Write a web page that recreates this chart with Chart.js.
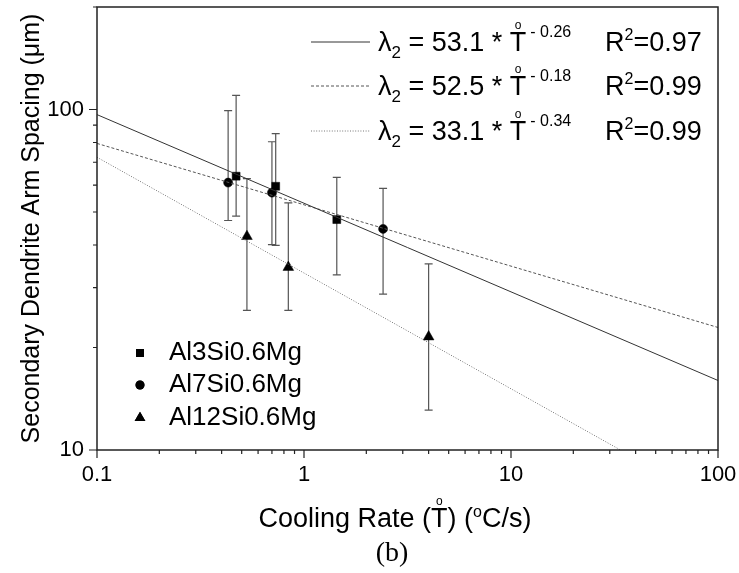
<!DOCTYPE html>
<html>
<head>
<meta charset="utf-8">
<script src="https://cdn.jsdelivr.net/npm/chart.js@4.4.1/dist/chart.umd.min.js"></script>
<style>
  html, body { margin: 0; padding: 0; background: #fff; }
  #wrap { position: relative; width: 739px; height: 573px; }
</style>
</head>
<body>
<div id="wrap"><canvas id="sdas-chart"></canvas></div>
<script>
// cooling rate (degC/s) vs secondary dendrite arm spacing (um)
const al3Rate = [0.47, 0.73, 1.44];
const al3Sdas = [63.7, 59.5, 47.5];
const al3High = [110, 85, 63.2];
const al3Low = [48.6, 39.9, 32.7];

const al7Rate = [0.43, 0.70, 2.41];
const al7Sdas = [61.0, 57.0, 44.6];
const al7High = [99.3, 80.4, 58.7];
const al7Low = [47.2, 40.1, 28.7];

const al12Rate = [0.53, 0.84, 4.0];
const al12Sdas = [42.4, 34.4, 21.5];
const al12High = [62.7, 53.2, 35.2];
const al12Low = [25.7, 25.7, 13.1];

// fitted power laws, end points of each line
const solidRate = [0.1, 100];
const solidSdas = [96.6, 16.0];
const dashedRate = [0.1, 100];
const dashedSdas = [79.5, 22.9];
const dottedRate = [0.1, 33.8];
const dottedSdas = [72.4, 10];

const seriesNames = ["Al3Si0.6Mg", "Al7Si0.6Mg", "Al12Si0.6Mg"];
const fitCoef = ["53.1", "52.5", "33.1"];
const fitExp = ["- 0.26", "- 0.18", "- 0.34"];
const fitR2 = ["0.97", "0.99", "0.99"];

const xTicks = [0.1, 0.2, 0.3, 0.4, 0.5, 0.6, 0.7, 0.8, 0.9, 1, 2, 3, 4, 5, 6, 7, 8, 9,
  10, 20, 30, 40, 50, 60, 70, 80, 90, 100];
const yTicks = [10, 20, 30, 40, 50, 60, 70, 80, 90, 100, 200];
const xLabels = { 0.1: "0.1", 1: "1", 10: "10", 100: "100" };
const yLabels = { 10: "10", 100: "100" };

const SANS = '"Liberation Sans", Arial, sans-serif';
const SERIF = '"Liberation Serif", "Times New Roman", serif';

const pts = (xs, ys) => xs.map((x, i) => ({ x: x, y: ys[i] }));

const fitLine = (xs, ys, dash, color) => ({
  type: "line",
  data: pts(xs, ys),
  borderColor: color,
  borderWidth: 1,
  borderDash: dash,
  pointRadius: 0,
  fill: false,
  showLine: true,
});

const marker = (xs, ys, hi, lo, style, r) => ({
  type: "scatter",
  data: pts(xs, ys),
  errHigh: hi,
  errLow: lo,
  pointStyle: style,
  pointRadius: r,
  pointBackgroundColor: "#000",
  pointBorderColor: "#000",
  pointBorderWidth: 0.5,
});

const dashes = [[], [3, 2], [1, 1.6]];
const dashColors = ["#333", "#555", "#777"];

const extras = {
  id: "extras",
  beforeDatasetsDraw(chart) {
    const { ctx, scales: { x, y } } = chart;
    ctx.save();
    ctx.strokeStyle = "#555";
    ctx.lineWidth = 1.2;
    chart.data.datasets.forEach((ds) => {
      if (!ds.errHigh) return;
      ds.data.forEach((p, i) => {
        const px = x.getPixelForValue(p.x);
        const top = y.getPixelForValue(ds.errHigh[i]);
        const bot = y.getPixelForValue(ds.errLow[i]);
        ctx.beginPath();
        ctx.moveTo(px, top); ctx.lineTo(px, bot);
        ctx.moveTo(px - 4, top); ctx.lineTo(px + 4, top);
        ctx.moveTo(px - 4, bot); ctx.lineTo(px + 4, bot);
        ctx.stroke();
      });
    });
    ctx.restore();
  },
  afterDraw(chart) {
    const { ctx, chartArea: a, scales: { x, y } } = chart;
    ctx.save();
    // frame
    ctx.strokeStyle = "#222";
    ctx.lineWidth = 1.5;
    ctx.strokeRect(a.left, a.top, a.right - a.left, a.bottom - a.top);
    // tick marks, outward
    ctx.lineWidth = 1.2;
    ctx.beginPath();
    x.ticks.forEach((t) => {
      const px = x.getPixelForValue(t.value);
      const len = xLabels[t.value] ? 8 : 4;
      ctx.moveTo(px, a.bottom); ctx.lineTo(px, a.bottom + len);
    });
    y.ticks.forEach((t) => {
      const py = y.getPixelForValue(t.value);
      const len = yLabels[t.value] ? 8 : 4;
      ctx.moveTo(a.left - len, py); ctx.lineTo(a.left, py);
    });
    ctx.stroke();

    ctx.fillStyle = "#000";
    ctx.textBaseline = "alphabetic";
    const txt = (s, px, py, size, align) => {
      ctx.font = size + "px " + SANS;
      ctx.textAlign = align || "left";
      ctx.fillText(s, px, py);
      return px + ctx.measureText(s).width;
    };

    // equation legend
    const rowY = [42, 86, 131];
    rowY.forEach((y0, i) => {
      ctx.strokeStyle = dashColors[i];
      ctx.lineWidth = 1;
      ctx.setLineDash(dashes[i]);
      ctx.beginPath();
      ctx.moveTo(311, y0); ctx.lineTo(370, y0);
      ctx.stroke();
      ctx.setLineDash([]);
      let ex = txt("\u03bb", 378, y0 + 9, 27);
      ex = txt("2", ex, y0 + 16, 17);
      ex = txt(" = " + fitCoef[i] + " * ", ex, y0 + 9, 27);
      const tStart = ex;
      ex = txt("T", ex, y0 + 9, 27);
      txt("o", (tStart + ex) / 2, y0 - 13, 12, "center");
      txt(fitExp[i], ex + 4, y0 - 5, 16);
      const rEnd = txt("R", 605, y0 + 9, 27);
      const sEnd = txt("2", rEnd, y0 - 2, 16);
      txt("=" + fitR2[i], sEnd, y0 + 9, 27);
    });

    // series legend
    const legY = [353, 385, 418];
    const styles = ["rect", "circle", "triangle"];
    const radii = [5.6, 4.5, 6.2];
    legY.forEach((ly, i) => {
      ctx.fillStyle = "#000";
      Chart.helpers.drawPoint(ctx, { pointStyle: styles[i], radius: radii[i], borderWidth: 0 }, 140, ly);
      ctx.fill();
      ctx.textBaseline = "middle";
      txt(seriesNames[i], 169, ly, 26);
      ctx.textBaseline = "alphabetic";
    });

    // axis titles
    ctx.save();
    ctx.translate(32, (a.top + a.bottom) / 2);
    ctx.rotate(-Math.PI / 2);
    ctx.textBaseline = "middle";
    txt("Secondary Dendrite Arm Spacing (\u03bcm)", 0, 0, 25, "center");
    ctx.restore();

    const base = 527;
    const size = 27;
    const p1 = "Cooling Rate (";
    const p2 = "T";
    const p3 = ") (";
    const p4 = "o";
    const p5 = "C/s)";
    ctx.font = size + "px " + SANS;
    const w1 = ctx.measureText(p1).width, w2 = ctx.measureText(p2).width,
      w3 = ctx.measureText(p3).width, w5 = ctx.measureText(p5).width;
    ctx.font = "16px " + SANS;
    const w4 = ctx.measureText(p4).width;
    let sx = 395 - (w1 + w2 + w3 + w4 + w5) / 2;
    sx = txt(p1, sx, base, size);
    const tl = sx;
    sx = txt(p2, sx, base, size);
    txt("o", (tl + sx) / 2, base - 22, 12, "center");
    sx = txt(p3, sx, base, size);
    sx = txt(p4, sx, base - 10, 16);
    txt(p5, sx, base, size);

    ctx.font = "28px " + SERIF;
    ctx.textAlign = "center";
    ctx.textBaseline = "alphabetic";
    ctx.fillText("(b)", 392, 561);
    ctx.restore();
  },
};

new Chart(document.getElementById("sdas-chart"), {
  type: "scatter",
  data: {
    datasets: [
      fitLine(solidRate, solidSdas, dashes[0], dashColors[0]),
      fitLine(dashedRate, dashedSdas, dashes[1], dashColors[1]),
      fitLine(dottedRate, dottedSdas, dashes[2], dashColors[2]),
      marker(al3Rate, al3Sdas, al3High, al3Low, "rect", 5.6),
      marker(al7Rate, al7Sdas, al7High, al7Low, "circle", 4.5),
      marker(al12Rate, al12Sdas, al12High, al12Low, "triangle", 6.2),
    ],
  },
  options: {
    responsive: true,
    maintainAspectRatio: false,
    animation: false,
    layout: { padding: { top: 7, right: 21, left: 0, bottom: 0 } },
    plugins: { legend: { display: false }, tooltip: { enabled: false } },
    scales: {
      x: {
        type: "logarithmic",
        min: 0.1,
        max: 100,
        afterBuildTicks: (s) => { s.ticks = xTicks.map((v) => ({ value: v })); },
        afterFit: (s) => { s.height = 123; },
        ticks: {
          autoSkip: false,
          maxRotation: 0,
          padding: 0,
          color: "#000",
          font: { family: SANS, size: 22 },
          callback: (v) => xLabels[v] || "",
        },
        grid: { display: false, drawTicks: true, tickLength: 12 },
        border: { display: false },
      },
      y: {
        type: "logarithmic",
        min: 10,
        max: 200,
        afterBuildTicks: (s) => { s.ticks = yTicks.map((v) => ({ value: v })); },
        afterFit: (s) => { s.width = 97; },
        ticks: {
          autoSkip: false,
          padding: 0,
          color: "#000",
          font: { family: SANS, size: 22, lineHeight: 0.5 },
          callback: (v) => yLabels[v] || "",
        },
        grid: { display: false, drawTicks: true, tickLength: 13 },
        border: { display: false },
      },
    },
  },
  plugins: [extras],
});
</script>
</body>
</html>
